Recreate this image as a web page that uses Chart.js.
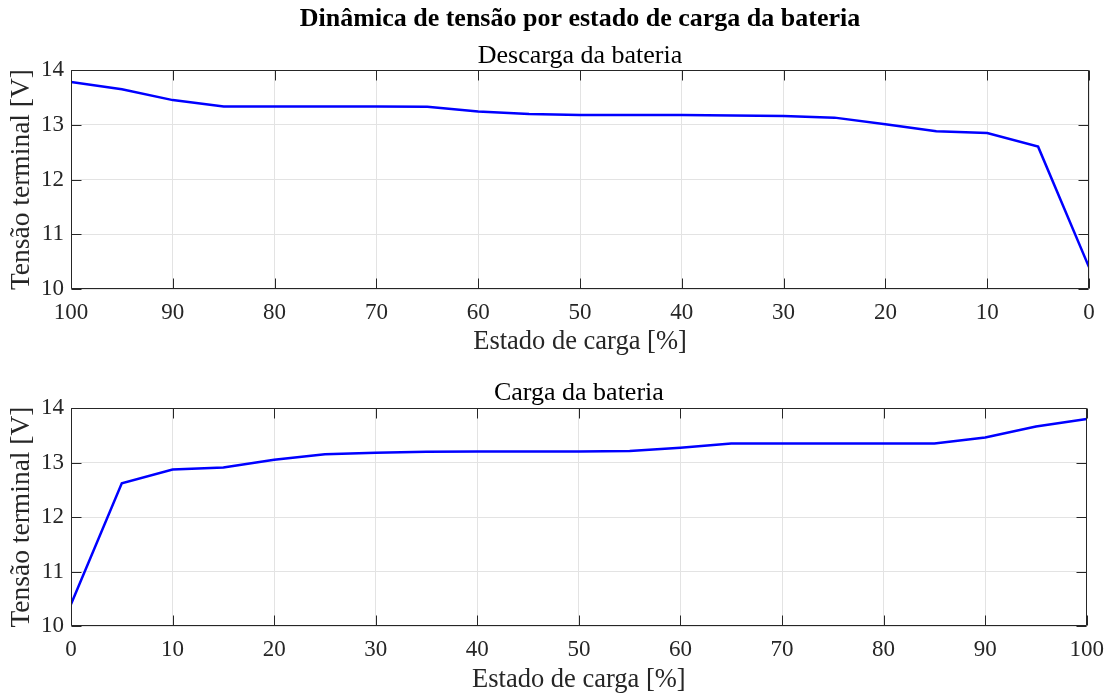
<!DOCTYPE html>
<html lang="pt">
<head>
    <meta charset="UTF-8">
    <title>Dinâmica de tensão por estado de carga da bateria</title>
    <style type="text/css">
        body { margin: 0; background: #fff; }
        .chartBox { position: absolute; left: 0; width: 1114px; }
        #box1 { top: 0; height: 360px; }
        #box2 { top: 360px; height: 333px; }
    </style>
</head>
<body>
    <div class="chartBox" id="box1">
        <canvas id="chartDescarga" width="1114" height="360"></canvas>
    </div>
    <div class="chartBox" id="box2">
        <canvas id="chartCarga" width="1114" height="333"></canvas>
    </div>

    <script src="https://cdn.jsdelivr.net/npm/chart.js"></script>
    <script>
        // estado de carga [%] e tensao terminal [V]
        var socDescarga = [100, 95, 90, 85, 80, 75, 70, 65, 60, 55, 50, 45, 40, 35, 30, 25, 20, 15, 10, 5, 0];
        var vDescarga = [13.78, 13.65, 13.45, 13.335, 13.335, 13.335, 13.335, 13.33, 13.24, 13.195, 13.18,
                         13.18, 13.177, 13.17, 13.16, 13.13, 13.01, 12.88, 12.85, 12.60, 10.40];
        var socCarga = [0, 5, 10, 15, 20, 25, 30, 35, 40, 45, 50, 55, 60, 65, 70, 75, 80, 85, 90, 95, 100];
        var vCarga = [10.40, 12.62, 12.87, 12.91, 13.05, 13.15, 13.18, 13.195, 13.20, 13.20, 13.20,
                      13.21, 13.27, 13.35, 13.35, 13.35, 13.35, 13.35, 13.46, 13.66, 13.80];

        var tituloGeral = 'Dinâmica de tensão por estado de carga da bateria';
        var tituloDescarga = 'Descarga da bateria';
        var tituloCarga = 'Carga da bateria';
        var rotuloX = 'Estado de carga [%]';
        var rotuloY = 'Tensão terminal [V]';

        var serif = "'Liberation Serif', 'DejaVu Serif', serif";
        var txtColor = '#262626';
        var gridColor = '#e3e3e3';

        function toPoints(xs, ys) {
            return xs.map(function (x, i) { return { x: x, y: ys[i] }; });
        }

        // moldura estilo MATLAB com ticks para dentro e titulos centrados na area do grafico
        var matlabBox = {
            id: 'matlabBox',
            afterDraw: function (chart, args, opts) {
                var ctx = chart.ctx;
                var a = chart.chartArea;
                var L = Math.round(a.left) + 0.5, R = Math.round(a.right) - 0.5;
                var T = Math.round(a.top) + 0.5, B = Math.round(a.bottom) - 0.5;
                var tl = 10;
                ctx.save();
                ctx.strokeStyle = txtColor;
                ctx.lineWidth = 1;
                ctx.beginPath();
                ctx.rect(L, T, R - L, B - T);
                chart.scales.x.ticks.forEach(function (t) {
                    var px = Math.round(chart.scales.x.getPixelForValue(t.value)) + 0.5;
                    ctx.moveTo(px, B); ctx.lineTo(px, B - tl);
                    ctx.moveTo(px, T); ctx.lineTo(px, T + tl);
                });
                chart.scales.y.ticks.forEach(function (t) {
                    var py = Math.round(chart.scales.y.getPixelForValue(t.value)) + 0.5;
                    ctx.moveTo(L, py); ctx.lineTo(L + tl, py);
                    ctx.moveTo(R, py); ctx.lineTo(R - tl, py);
                });
                ctx.stroke();

                var cx = (a.left + a.right) / 2;
                ctx.textAlign = 'center';
                ctx.textBaseline = 'middle';
                (opts.titles || []).forEach(function (t) {
                    ctx.fillStyle = t.color || txtColor;
                    ctx.font = (t.bold ? 'bold ' : '') + '26px ' + serif;
                    ctx.fillText(t.text, cx, t.y);
                });
                ctx.restore();
            }
        };

        function makeOptions(reverse, padTop, xHeight, xTitlePad, titles) {
            return {
                responsive: false,
                animation: { duration: 0 },
                layout: { padding: { top: padTop, left: 0, right: 25, bottom: 0 } },
                scales: {
                    x: {
                        type: 'linear',
                        min: 0,
                        max: 100,
                        reverse: reverse,
                        ticks: {
                            stepSize: 10,
                            padding: 10,
                            color: txtColor,
                            font: { family: serif, size: 23, lineHeight: 1.2 },
                            maxRotation: 0
                        },
                        grid: { color: gridColor, drawTicks: false },
                        border: { display: false },
                        title: {
                            display: true,
                            text: rotuloX,
                            color: txtColor,
                            font: { family: serif, size: 26.5, lineHeight: 1 },
                            padding: { top: 0, bottom: xTitlePad }
                        },
                        afterFit: function (scale) { scale.height = xHeight; }
                    },
                    y: {
                        min: 10,
                        max: 14,
                        ticks: {
                            stepSize: 1,
                            padding: 7,
                            color: txtColor,
                            font: { family: serif, size: 23, lineHeight: 1.2 }
                        },
                        grid: { color: gridColor, drawTicks: false },
                        border: { display: false },
                        title: {
                            display: true,
                            text: rotuloY,
                            color: txtColor,
                            font: { family: serif, size: 27.5, lineHeight: 1 },
                            padding: { top: 8, bottom: 0 }
                        },
                        afterFit: function (scale) { scale.width = 71; }
                    }
                },
                plugins: {
                    legend: { display: false },
                    tooltip: { enabled: false },
                    matlabBox: { titles: titles }
                }
            };
        }

        var chartDescarga = new Chart(document.getElementById('chartDescarga').getContext('2d'), {
            type: 'line',
            data: {
                datasets: [{
                    data: toPoints(socDescarga, vDescarga),
                    borderColor: '#0000ff',
                    borderWidth: 2.5,
                    pointRadius: 0,
                    tension: 0
                }]
            },
            options: makeOptions(true, 70, 71, 5, [
                { text: tituloGeral, y: 19, bold: true, color: '#000' },
                { text: tituloDescarga, y: 56, color: '#000' }
            ]),
            plugins: [matlabBox]
        });

        var chartCarga = new Chart(document.getElementById('chartCarga').getContext('2d'), {
            type: 'line',
            data: {
                datasets: [{
                    data: toPoints(socCarga, vCarga),
                    borderColor: '#0000ff',
                    borderWidth: 2.5,
                    pointRadius: 0,
                    tension: 0
                }]
            },
            options: makeOptions(false, 48, 67, 0, [
                { text: tituloCarga, y: 33, color: '#000' }
            ]),
            plugins: [matlabBox]
        });
    </script>
</body>
</html>
